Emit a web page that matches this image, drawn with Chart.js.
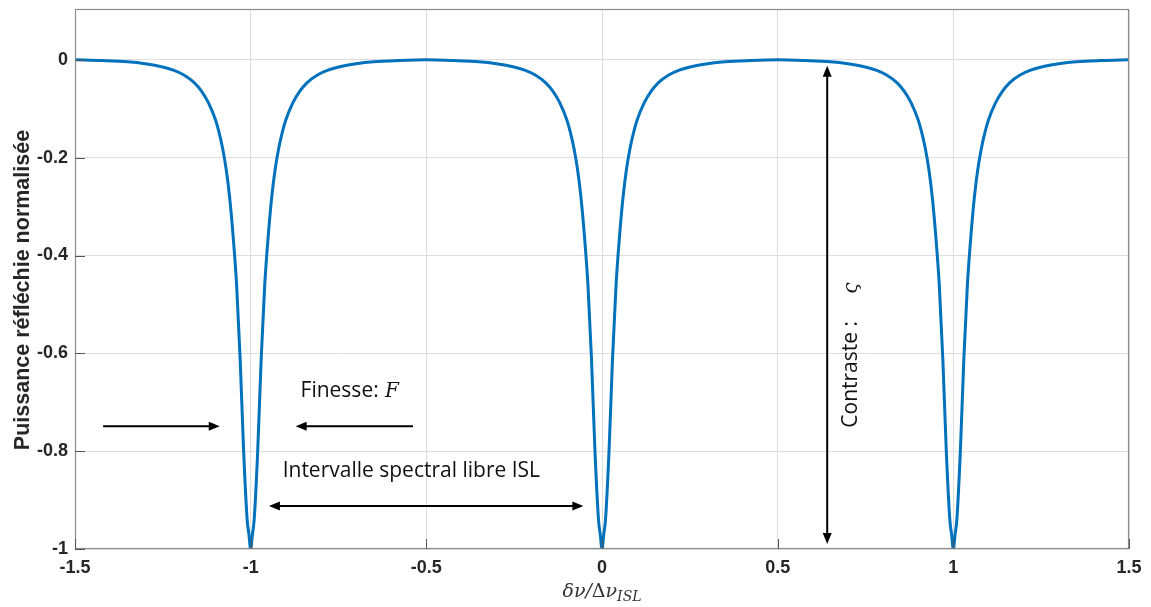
<!DOCTYPE html>
<html>
<head>
<meta charset="utf-8">
<script src="https://cdn.jsdelivr.net/npm/chart.js@4/dist/chart.umd.min.js"></script>
<style>
  html, body { margin: 0; background: #fff; }
</style>
</head>
<body>
<canvas id="chart" width="1151" height="607"></canvas>
<script>
// centres of the three resonance dips (in units of the ISL)
const dipCenters = [-1, 0, 1];
// one dip: distance from the centre -> normalised power
const dipOffsets = [0, 0.005, 0.01, 0.02, 0.03, 0.04, 0.05, 0.06, 0.07, 0.08, 0.09, 0.10, 0.12, 0.14, 0.16, 0.19, 0.22, 0.26, 0.30, 0.35, 0.42, 0.5];
const dipValues  = [-1, -0.97, -0.94, -0.80, -0.61, -0.46, -0.36, -0.28, -0.222, -0.18, -0.148, -0.123, -0.088, -0.064, -0.047, -0.031, -0.021, -0.013, -0.008, -0.004, -0.0015, 0];

const xTicks = [-1.5, -1, -0.5, 0, 0.5, 1, 1.5];
const xTickLabels = ['-1.5', '-1', '-0.5', '0', '0.5', '1', '1.5'];
const yTicks = [-1, -0.8, -0.6, -0.4, -0.2, 0];
const yTickLabels = ['-1', '-0.8', '-0.6', '-0.4', '-0.2', '0'];

const yTitle = 'Puissance réfléchie normalisée';
const finesseLabel = 'Finesse:';
const islLabel = 'Intervalle spectral libre ISL';
const contrastLabel = 'Contraste :';

// build the curve from the dip profile, mirrored around each centre
const seen = new Set();
const points = [];
dipCenters.forEach(c => {
  dipOffsets.forEach((d, i) => {
    [c - d, c + d].forEach(x => {
      const key = x.toFixed(4);
      if (x < -1.5 - 1e-9 || x > 1.5 + 1e-9 || seen.has(key)) return;
      seen.add(key);
      points.push({ x: x, y: dipValues[i] });
    });
  });
});
points.sort((a, b) => a.x - b.x);

const tickColor = '#262626';
const boxColor = '#8c8c8c';
const serif = '"DejaVu Serif", "Liberation Serif", serif';
const labelFont = '21px "Open Sans", "Noto Sans", sans-serif';

function arrowHead(ctx, x, y, dir) {
  // dir: 1 right, -1 left, 2 down, -2 up
  const L = 11, W = 4.5;
  ctx.beginPath();
  if (Math.abs(dir) === 1) {
    ctx.moveTo(x, y);
    ctx.lineTo(x - dir * L, y - W);
    ctx.lineTo(x - dir * L, y + W);
  } else {
    const s = dir > 0 ? 1 : -1;
    ctx.moveTo(x, y);
    ctx.lineTo(x - W, y - s * L);
    ctx.lineTo(x + W, y - s * L);
  }
  ctx.closePath();
  ctx.fill();
}

const overlay = {
  id: 'overlay',
  afterDraw(chart) {
    const { ctx, chartArea: a, scales: { x, y } } = chart;
    ctx.save();

    // axes box
    ctx.strokeStyle = boxColor;
    ctx.lineWidth = 1.2;
    ctx.strokeRect(a.left + 0.5, a.top + 0.5, a.right - a.left - 1, a.bottom - a.top - 1);

    // inward tick marks (left and bottom only)
    ctx.strokeStyle = '#555';
    ctx.lineWidth = 1;
    ctx.beginPath();
    yTicks.forEach(v => {
      const py = Math.round(y.getPixelForValue(v)) + 0.5;
      ctx.moveTo(a.left, py); ctx.lineTo(a.left + 10, py);
    });
    xTicks.forEach(v => {
      const px = Math.round(x.getPixelForValue(v)) + 0.5;
      ctx.moveTo(px, a.bottom); ctx.lineTo(px, a.bottom - 10);
    });
    ctx.stroke();

    // y title
    ctx.fillStyle = tickColor;
    ctx.font = 'bold 21.5px "Liberation Sans", Arial, sans-serif';
    ctx.textAlign = 'center';
    ctx.textBaseline = 'middle';
    ctx.translate(23, 290);
    ctx.rotate(-Math.PI / 2);
    ctx.fillText(yTitle, 0, 0);
    ctx.setTransform(1, 0, 0, 1, 0, 0);

    // x title: δν/Δν_ISL
    ctx.fillStyle = '#333';
    ctx.textBaseline = 'alphabetic';
    ctx.textAlign = 'left';
    const parts = [
      { t: 'δν/', f: 'italic 19px ' + serif, dy: 0 },
      { t: 'Δ', f: '19px ' + serif, dy: 0 },
      { t: 'ν', f: 'italic 19px ' + serif, dy: 0 },
      { t: 'ISL', f: 'italic 14px ' + serif, dy: 4 }
    ];
    let total = 0;
    parts.forEach(p => { ctx.font = p.f; p.w = ctx.measureText(p.t).width; total += p.w; });
    let px0 = x.getPixelForValue(0) - total / 2;
    parts.forEach(p => { ctx.font = p.f; ctx.fillText(p.t, px0, 597 + p.dy); px0 += p.w; });

    // annotations
    ctx.strokeStyle = '#000';
    ctx.fillStyle = '#000';
    ctx.lineWidth = 2;

    const yF = y.getPixelForValue(-0.749);
    // finesse arrows
    let xa = x.getPixelForValue(-1.42), xb = x.getPixelForValue(-1.088);
    ctx.beginPath(); ctx.moveTo(xa, yF); ctx.lineTo(xb - 4, yF); ctx.stroke();
    arrowHead(ctx, xb, yF, 1);
    xa = x.getPixelForValue(-0.538); xb = x.getPixelForValue(-0.872);
    ctx.beginPath(); ctx.moveTo(xa, yF); ctx.lineTo(xb + 4, yF); ctx.stroke();
    arrowHead(ctx, xb, yF, -1);

    // ISL double arrow
    const yI = y.getPixelForValue(-0.912);
    xa = x.getPixelForValue(-0.948); xb = x.getPixelForValue(-0.053);
    ctx.beginPath(); ctx.moveTo(xa + 4, yI); ctx.lineTo(xb - 4, yI); ctx.stroke();
    arrowHead(ctx, xa, yI, -1);
    arrowHead(ctx, xb, yI, 1);

    // contrast double arrow
    const xC = x.getPixelForValue(0.641);
    const ya = y.getPixelForValue(-0.012), yb = y.getPixelForValue(-0.99);
    ctx.beginPath(); ctx.moveTo(xC, ya + 4); ctx.lineTo(xC, yb - 4); ctx.stroke();
    arrowHead(ctx, xC, ya, -2);
    arrowHead(ctx, xC, yb, 2);

    // labels
    ctx.font = labelFont;
    ctx.fillStyle = '#111';
    ctx.textAlign = 'left';
    ctx.textBaseline = 'middle';
    const fy = y.getPixelForValue(-0.678);
    ctx.fillText(finesseLabel, x.getPixelForValue(-0.858), fy);
    ctx.font = 'italic 20px ' + serif;
    ctx.fillText('F', x.getPixelForValue(-0.618), fy);

    ctx.font = labelFont;
    ctx.fillText(islLabel, x.getPixelForValue(-0.909), y.getPixelForValue(-0.84));

    // rotated contrast label
    ctx.translate(x.getPixelForValue(0.709), y.getPixelForValue(-0.752));
    ctx.rotate(-Math.PI / 2);
    ctx.font = labelFont;
    ctx.fillText(contrastLabel, 0, 0);
    ctx.font = 'italic 20px ' + serif;
    ctx.fillText('ς', 134, 1);
    ctx.restore();
  }
};

new Chart(document.getElementById('chart'), {
  type: 'line',
  data: {
    datasets: [{
      data: points,
      borderColor: '#0072BD',
      borderWidth: 3,
      pointRadius: 0,
      cubicInterpolationMode: 'monotone',
      fill: false
    }]
  },
  options: {
    responsive: false,
    animation: false,
    devicePixelRatio: 1,
    layout: { padding: { top: 9, right: 22, left: 0, bottom: 0 } },
    plugins: { legend: { display: false }, tooltip: { enabled: false } },
    scales: {
      x: {
        type: 'linear',
        min: -1.5,
        max: 1.5,
        afterBuildTicks: s => { s.ticks = xTicks.map(v => ({ value: v })); },
        afterFit: s => { s.height = 58; s.paddingLeft = 0; s.paddingRight = 0; },
        grid: { color: '#dedede', lineWidth: 1, drawTicks: false },
        border: { display: false },
        ticks: {
          padding: 8,
          color: tickColor,
          font: { family: '"Liberation Sans", Arial, sans-serif', size: 18, weight: 'bold' },
          callback: (v) => xTickLabels[xTicks.indexOf(v)],
          maxRotation: 0
        }
      },
      y: {
        type: 'linear',
        min: -1,
        max: 0.104,
        afterBuildTicks: s => { s.ticks = yTicks.map(v => ({ value: v })); },
        afterFit: s => { s.width = 75; s.paddingTop = 0; s.paddingBottom = 0; },
        grid: { color: '#dedede', lineWidth: 1, drawTicks: false },
        border: { display: false },
        ticks: {
          padding: 7,
          color: tickColor,
          font: { family: '"Liberation Sans", Arial, sans-serif', size: 18, weight: 'bold' },
          callback: (v) => yTickLabels[yTicks.indexOf(v)]
        }
      }
    }
  },
  plugins: [overlay]
});
</script>
</body>
</html>
